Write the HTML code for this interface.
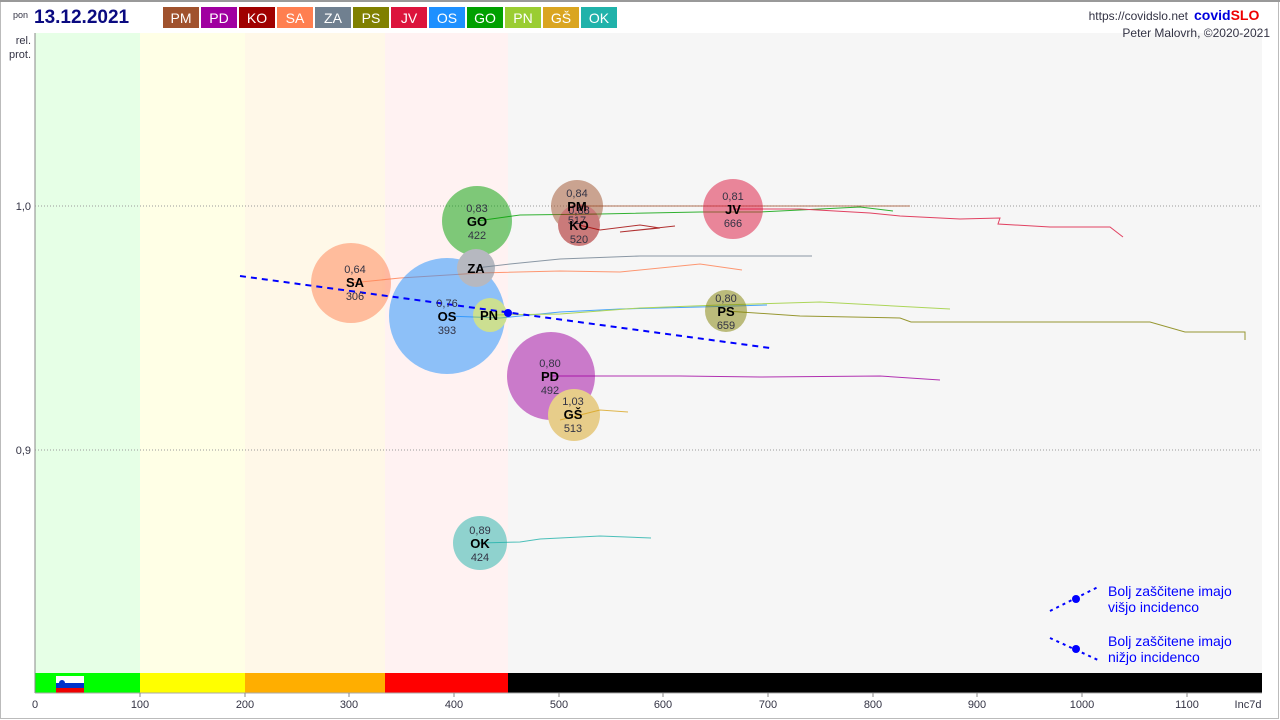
<!DOCTYPE html>
<html><head><meta charset="utf-8"><style>
html,body{margin:0;padding:0;background:#fff}
svg{display:block;font-family:"Liberation Sans",sans-serif}
</style></head><body>
<svg width="1280" height="720" viewBox="0 0 1280 720">
<rect x="0.5" y="0.5" width="1278" height="718" fill="#fff" stroke="#bbb"/>
<rect x="0" y="0" width="1280" height="2" fill="#999"/>
<!-- bands -->
<rect x="35" y="33" width="105" height="640" fill="#e6ffe6"/>
<rect x="140" y="33" width="105" height="640" fill="#ffffe6"/>
<rect x="245" y="33" width="140" height="640" fill="#fff8e8"/>
<rect x="385" y="33" width="123" height="640" fill="#fff2f2"/>
<rect x="508" y="33" width="754" height="640" fill="#f6f6f6"/>
<rect x="35" y="673" width="105" height="20" fill="#00ff00"/>
<rect x="140" y="673" width="105" height="20" fill="#ffff00"/>
<rect x="245" y="673" width="140" height="20" fill="#ffae00"/>
<rect x="385" y="673" width="123" height="20" fill="#ff0000"/>
<rect x="508" y="673" width="754" height="20" fill="#000"/>
<rect x="56" y="676" width="28" height="7" fill="#fff"/>
<rect x="56" y="683" width="28" height="5" fill="#0033cc"/>
<rect x="56" y="688" width="28" height="5" fill="#e00"/>
<circle cx="62" cy="683" r="3" fill="#0033cc"/>
<line x1="35" y1="33" x2="35" y2="693" stroke="#888"/>
<line x1="35" y1="693" x2="1262" y2="693" stroke="#aaa"/>
<line x1="35" y1="206" x2="1262" y2="206" stroke="#999" stroke-dasharray="1,2"/>
<line x1="35" y1="450" x2="1262" y2="450" stroke="#999" stroke-dasharray="1,2"/>
<g font-size="11" fill="#334" text-anchor="middle">
<text x="35" y="708">0</text><text x="140" y="708">100</text><text x="245" y="708">200</text><text x="349" y="708">300</text><text x="454" y="708">400</text><text x="559" y="708">500</text><text x="663" y="708">600</text><text x="768" y="708">700</text><text x="873" y="708">800</text><text x="977" y="708">900</text><text x="1082" y="708">1000</text><text x="1187" y="708">1100</text><text x="1248" y="708">Inc7d</text>
</g>
<g stroke="#888"><line x1="140" y1="693" x2="140" y2="697"/><line x1="245" y1="693" x2="245" y2="697"/><line x1="349" y1="693" x2="349" y2="697"/><line x1="454" y1="693" x2="454" y2="697"/><line x1="559" y1="693" x2="559" y2="697"/><line x1="663" y1="693" x2="663" y2="697"/><line x1="768" y1="693" x2="768" y2="697"/><line x1="873" y1="693" x2="873" y2="697"/><line x1="977" y1="693" x2="977" y2="697"/><line x1="1082" y1="693" x2="1082" y2="697"/><line x1="1187" y1="693" x2="1187" y2="697"/></g>
<g font-size="11" fill="#334" text-anchor="end"><text x="31" y="210">1,0</text><text x="31" y="454">0,9</text><text x="31" y="44">rel.</text><text x="31" y="58">prot.</text></g>
<!-- header -->
<text x="13" y="18" font-size="9" fill="#334">pon</text>
<text x="34" y="23" font-size="19" font-weight="bold" fill="#0a0a80">13.12.2021</text>
<g font-size="14" fill="#fff" text-anchor="middle">
<rect x="163" y="7" width="36" height="21" fill="#a0522d"/><text x="181" y="23">PM</text>
<rect x="201" y="7" width="36" height="21" fill="#a000a0"/><text x="219" y="23">PD</text>
<rect x="239" y="7" width="36" height="21" fill="#a00000"/><text x="257" y="23">KO</text>
<rect x="277" y="7" width="36" height="21" fill="#ff7f50"/><text x="295" y="23">SA</text>
<rect x="315" y="7" width="36" height="21" fill="#708090"/><text x="333" y="23">ZA</text>
<rect x="353" y="7" width="36" height="21" fill="#808000"/><text x="371" y="23">PS</text>
<rect x="391" y="7" width="36" height="21" fill="#dc143c"/><text x="409" y="23">JV</text>
<rect x="429" y="7" width="36" height="21" fill="#1e90ff"/><text x="447" y="23">OS</text>
<rect x="467" y="7" width="36" height="21" fill="#00a000"/><text x="485" y="23">GO</text>
<rect x="505" y="7" width="36" height="21" fill="#9acd32"/><text x="523" y="23">PN</text>
<rect x="543" y="7" width="36" height="21" fill="#daa520"/><text x="561" y="23">GŠ</text>
<rect x="581" y="7" width="36" height="21" fill="#20b2aa"/><text x="599" y="23">OK</text>
</g>
<text x="1188" y="20" font-size="12" fill="#334" text-anchor="end">https://covidslo.net</text>
<text x="1194" y="20" font-size="14" font-weight="bold" fill="#0000dd">covid<tspan fill="#ee0000">SLO</tspan></text>
<text x="1270" y="37" font-size="12" fill="#334" text-anchor="end">Peter Malovrh, ©2020-2021</text>
<!-- trails -->
<g fill="none" stroke-width="1" opacity="0.8">
<polyline stroke="#00a000" points="477,221 520,215 600,214 700,212 760,212 800,210 860,207 893,211"/>
<polyline stroke="#a0522d" points="577,206 700,206 910,206"/>
<polyline stroke="#a00000" points="579,225 600,230 640,225 660,228 620,232 675,226"/>
<polyline stroke="#dc143c" points="733,209 800,209 870,213 900,216 960,219 1000,218 998,224 1050,227 1110,227 1123,237"/>
<polyline stroke="#708090" points="476,268 510,264 560,259 640,256 700,256 812,256"/>
<polyline stroke="#ff7f50" points="351,283 400,278 480,273 560,271 620,272 700,264 742,270"/>
<polyline stroke="#1e90ff" points="447,316 500,318 560,312 620,309 700,307 767,305"/>
<polyline stroke="#9acd32" points="490,315 560,314 640,308 720,305 820,302 950,309"/>
<polyline stroke="#808000" points="726,311 800,316 900,318 911,322 1000,322 1150,322 1185,332 1245,332 1245,340"/>
<polyline stroke="#a000a0" points="551,376 620,376 680,376 760,377 880,376 940,380"/>
<polyline stroke="#daa520" points="560,420 600,410 628,412"/>
<polyline stroke="#20b2aa" points="480,543 520,542 540,539 600,536 651,538"/>
</g>
<!-- bubbles -->
<g opacity="0.5">
<circle cx="351" cy="283" r="40" fill="#ff7f50"/>
<circle cx="447" cy="316" r="58" fill="#1e90ff"/>
<circle cx="477" cy="221" r="35" fill="#00a000"/>
<circle cx="476" cy="268" r="19" fill="#708090"/>
<circle cx="490" cy="315" r="17" fill="#9acd32"/>
<circle cx="577" cy="206" r="26" fill="#a0522d"/>
<circle cx="579" cy="225" r="21" fill="#a00000"/>
<circle cx="733" cy="209" r="30" fill="#dc143c"/>
<circle cx="726" cy="311" r="21" fill="#808000"/>
<circle cx="551" cy="376" r="44" fill="#a000a0"/>
<circle cx="574" cy="415" r="26" fill="#daa520"/>
<circle cx="480" cy="543" r="27" fill="#20b2aa"/>
</g>
<line x1="240" y1="276" x2="770" y2="348" stroke="#0000ff" stroke-width="2" stroke-dasharray="6,5"/>
<circle cx="508" cy="313" r="4" fill="#0000ff"/>
<!-- labels -->
<g text-anchor="middle" fill="#334" font-size="11">
<text x="355" y="273">0,64</text><text x="355" y="300">306</text>
<text x="447" y="307">0,76</text><text x="447" y="334">393</text>
<text x="477" y="212">0,83</text><text x="477" y="239">422</text>
<text x="577" y="197">0,84</text><text x="577" y="224">517</text>
<text x="579" y="214">0,88</text><text x="579" y="243">520</text>
<text x="733" y="200">0,81</text><text x="733" y="227">666</text>
<text x="726" y="302">0,80</text><text x="726" y="329">659</text>
<text x="550" y="367">0,80</text><text x="550" y="394">492</text>
<text x="573" y="405">1,03</text><text x="573" y="432">513</text>
<text x="480" y="534">0,89</text><text x="480" y="561">424</text>
</g>
<g text-anchor="middle" fill="#000" font-size="13" font-weight="bold">
<text x="355" y="287">SA</text><text x="447" y="321">OS</text><text x="477" y="226">GO</text>
<text x="476" y="273">ZA</text><text x="489" y="320">PN</text><text x="577" y="211">PM</text>
<text x="579" y="230">KO</text><text x="733" y="214">JV</text><text x="726" y="316">PS</text>
<text x="550" y="381">PD</text><text x="573" y="419">GŠ</text><text x="480" y="548">OK</text>
</g>
<!-- legend -->
<line x1="1050" y1="611" x2="1098" y2="587" stroke="#0000ff" stroke-width="2" stroke-dasharray="3,4"/>
<circle cx="1076" cy="599" r="4" fill="#0000ff"/>
<line x1="1050" y1="638" x2="1098" y2="660" stroke="#0000ff" stroke-width="2" stroke-dasharray="3,4"/>
<circle cx="1076" cy="649" r="4" fill="#0000ff"/>
<g fill="#0000ff" font-size="14">
<text x="1108" y="596">Bolj  zaščitene imajo</text><text x="1108" y="612">višjo incidenco</text>
<text x="1108" y="646">Bolj  zaščitene imajo</text><text x="1108" y="662">nižjo incidenco</text>
</g>
</svg>
</body></html>
